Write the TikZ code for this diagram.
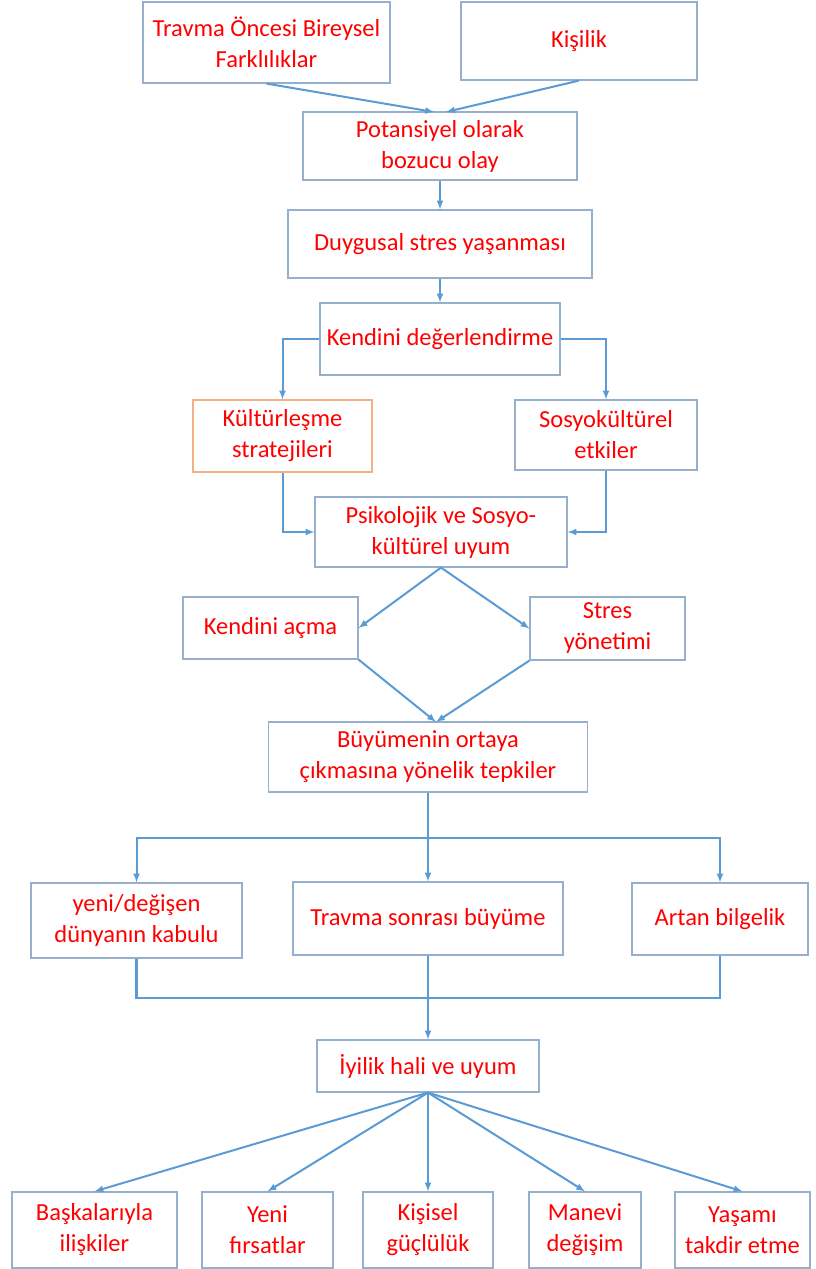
\documentclass[tikz,border=0pt]{standalone}
\usepackage{fontspec}
\setmainfont{Carlito}
\usepackage{tikz}
\usetikzlibrary{arrows}
\definecolor{boxline}{RGB}{150,175,205}
\definecolor{linkblue}{RGB}{91,155,213}
\definecolor{orangeline}{RGB}{244,177,131}
\tikzset{
	box/.style={rectangle, draw=boxline, line width=1.2pt, inner sep=0pt, align=center, text=red, font=\fontsize{24.5}{31}\selectfont},
	link/.style={draw=linkblue, line width=2pt, -latex},
	bus/.style={draw=linkblue, line width=2.8pt},
}
\begin{document}
\begin{tikzpicture}[x=1pt,y=-1pt]
		\useasboundingbox (0,0) rectangle (816,1269);
%		\draw[help lines] (0,0) grid[step=50] (816,1269);
		\path (266.5,42.5) node(travma) [box,minimum width=247pt,minimum height=81pt] {Travma Öncesi Bireysel\\Farklılıklar};
		\path (579,41) node(kisilik) [box,minimum width=236pt,minimum height=78pt] {Kişilik};
		\path (440,146) node(potansiyel) [box,minimum width=274pt,minimum height=68pt] {Potansiyel olarak\\bozucu olay};
		\path (440,244) node(duygusal) [box,minimum width=304pt,minimum height=68pt] {Duygusal stres yaşanması};
		\path (440,339) node(degerlendirme) [box,minimum width=240pt,minimum height=72pt] {Kendini değerlendirme};
		\path (282.5,436) node(kultur) [box,draw=orangeline,minimum width=179pt,minimum height=72pt] {Kültürleşme\\stratejileri};
		\path (606,435) node(sosyo) [box,minimum width=182pt,minimum height=70pt] {Sosyokültürel\\etkiler};
		\path (441,532) node(uyum) [box,minimum width=252pt,minimum height=70pt] {Psikolojik ve Sosyo-\\kültürel uyum};
		\path (270.5,628) node(acma) [box,minimum width=175pt,minimum height=62pt] {Kendini açma};
		\path (607.5,628.5) node(stres) [box,minimum width=155pt,minimum height=63pt] {Stres\\yönetimi};
		\path (428,757) node(tepkiler) [box,minimum width=319pt,minimum height=70pt] {Büyümenin ortaya\\çıkmasına yönelik tepkiler};
		\path (136.5,920.5) node(kabul) [box,minimum width=211pt,minimum height=75pt] {yeni/değişen\\dünyanın kabulu};
		\path (428,918.5) node(buyume) [box,minimum width=270pt,minimum height=73pt] {Travma sonrası büyüme};
		\path (720,919) node(bilgelik) [box,minimum width=176pt,minimum height=72pt] {Artan bilgelik};
		\path (428,1066) node(iyilik) [box,minimum width=222pt,minimum height=52pt] {İyilik hali ve uyum};
		\path (94.5,1230) node(iliski) [box,minimum width=165pt,minimum height=76pt] {Başkalarıyla\\ilişkiler};
		\path (267.5,1230) node(firsat) [box,minimum width=131pt,minimum height=76pt] {Yeni\\fırsatlar};
		\path (428,1230) node(gucluluk) [box,minimum width=130pt,minimum height=76pt] {Kişisel\\güçlülük};
		\path (585,1230) node(manevi) [box,minimum width=112pt,minimum height=76pt] {Manevi\\değişim};
		\path (742.5,1230) node(takdir) [box,minimum width=135pt,minimum height=76pt] {Yaşamı\\takdir etme};
		\path (434,112) coordinate (pot_in_l);
		\path (446,112) coordinate (pot_in_r);
		\path (436,722) coordinate (tep_in);
		\path (428,838) coordinate (split);
		\path (428,998) coordinate (join);

		\draw[link] (travma.south) -- (pot_in_l);
		\draw[link] (kisilik.south) -- (pot_in_r);
		\draw[link] (potansiyel.south) -- (duygusal.north);
		\draw[link] (duygusal.south) -- (degerlendirme.north);
		\draw[link] (degerlendirme.west) -| (kultur.north);
		\draw[link] (degerlendirme.east) -| (sosyo.north);
		\draw[link] (kultur.south) |- (uyum.west);
		\draw[link] (sosyo.south) |- (uyum.east);
		\draw[link] (uyum.south) -- (acma.east);
		\draw[link] (uyum.south) -- (stres.west);
		\draw[link] (acma.south east) -- (tep_in);
		\draw[link] (stres.south west) -- (tep_in);
		\draw[link] (tepkiler.south) -- (buyume.north);
		\draw[bus] (kabul.north |- split) -- (bilgelik.north |- split);
		\draw[link] (split) -| (kabul.north);
		\draw[link] (split) -| (bilgelik.north);
		\draw[bus] (kabul.south) |- (join) -| (bilgelik.south);
		\draw[link] (buyume.south) -- (iyilik.north);
		\draw[link] (iyilik.south) -- (iliski.north);
		\draw[link] (iyilik.south) -- (firsat.north);
		\draw[link] (iyilik.south) -- (gucluluk.north);
		\draw[link] (iyilik.south) -- (manevi.north);
		\draw[link] (iyilik.south) -- (takdir.north);
	\end{tikzpicture}
\end{document}
